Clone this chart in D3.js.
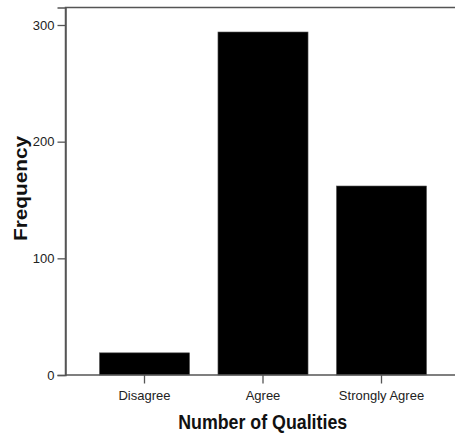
<!DOCTYPE html>
<html><head><meta charset="utf-8">
<script src="https://cdn.jsdelivr.net/npm/d3@7"></script>
<style>
html,body{margin:0;padding:0;background:#fff;}
svg text{font-family:"Liberation Sans",Arial,sans-serif;}
</style>
</head><body>
<svg id="c" width="455" height="439"></svg>
<script>
const categories = ["Disagree", "Agree", "Strongly Agree"];
const frequencies = [19, 294, 162];
const yTicks = [0, 100, 200, 300];
const xTitle = "Number of Qualities";
const yTitle = "Frequency";

const svg = d3.select("#c");
const mLeft = 65.5, mTop = 7.5, mBottom = 375, mRight = 470;
const FONT = '"Liberation Sans",Arial,sans-serif';

const x = d3.scaleBand().domain(categories).range([85.25, 440.75])
  .paddingInner(0.24).paddingOuter(0.12);
const y = d3.scaleLinear().domain([0, 315]).range([mBottom, mTop]);

// frame (top + right beyond view)
svg.append("path")
  .attr("d", `M${mLeft},${mBottom}V${mTop}H${mRight}`)
  .attr("fill", "none").attr("stroke", "#555").attr("stroke-width", 1.5);

// bars
svg.selectAll("rect.bar").data(frequencies).join("rect")
  .attr("class", "bar")
  .attr("x", (d, i) => x(categories[i]))
  .attr("width", x.bandwidth())
  .attr("y", d => y(d))
  .attr("height", d => y(0) - y(d))
  .attr("fill", "#000").attr("stroke", "#555").attr("stroke-width", 0.6);

// y axis
const yAxis = svg.append("g").attr("transform", `translate(${mLeft},0)`)
  .call(d3.axisLeft(y).tickValues(yTicks).tickSize(8).tickPadding(3).tickFormat(d3.format("d")));
yAxis.select(".domain").attr("stroke", "#555").attr("stroke-width", 1.5);
yAxis.selectAll(".tick line").attr("stroke", "#555").attr("stroke-width", 1.3);
yAxis.selectAll(".tick text").attr("font-size", 13).attr("fill", "#222").attr("font-family", FONT);

// x axis
const xAxis = svg.append("g").attr("transform", `translate(0,${mBottom})`)
  .call(d3.axisBottom(x).tickSize(8.5).tickPadding(7.5).tickSizeOuter(0));
xAxis.select(".domain").attr("d", `M${mLeft},0H${mRight}`).attr("stroke", "#555").attr("stroke-width", 1.5);
xAxis.selectAll(".tick line").attr("stroke", "#555").attr("stroke-width", 1.3);
xAxis.selectAll(".tick text").attr("font-size", 13).attr("fill", "#222").attr("font-family", FONT);

// titles
svg.append("text").attr("x", 262.7).attr("y", 429).attr("text-anchor", "middle")
  .attr("font-size", 20).attr("font-weight", "bold").attr("fill", "#111")
  .attr("textLength", 169).attr("lengthAdjust", "spacingAndGlyphs").text(xTitle);
svg.append("text").attr("transform", "translate(27,188.5) rotate(-90)").attr("text-anchor", "middle")
  .attr("font-size", 19).attr("font-weight", "bold").attr("fill", "#111")
  .attr("textLength", 105).attr("lengthAdjust", "spacingAndGlyphs").text(yTitle);
</script>
</body></html>
